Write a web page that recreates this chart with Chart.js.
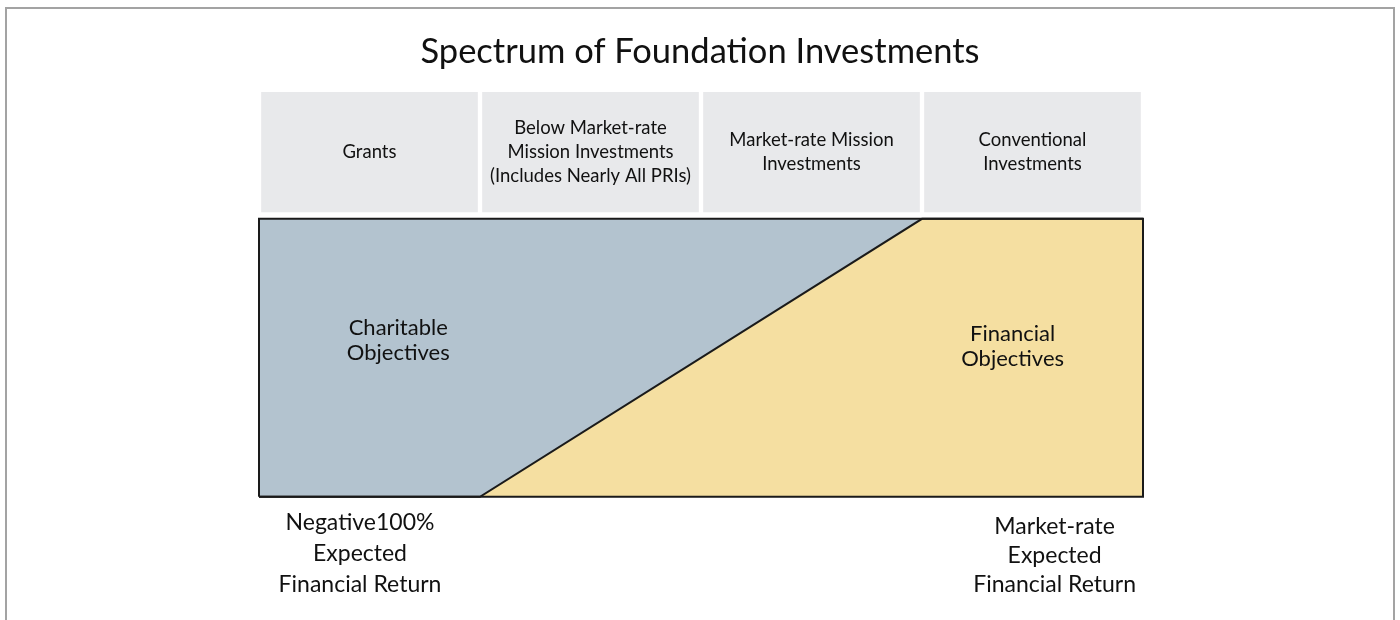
<!DOCTYPE html>
<html>
<head>
<meta charset="utf-8">
<script src="https://cdn.jsdelivr.net/npm/chart.js@4.4.1/dist/chart.umd.min.js"></script>
<style>
  html, body { margin: 0; padding: 0; background: #ffffff; }
  #wrap { position: relative; width: 1400px; height: 620px; overflow: hidden; }
  #frame { position: absolute; left: 5px; top: 7px; width: 1390px; height: 640px;
           border: 2px solid #a3a3a3; box-sizing: border-box; }
  canvas { position: absolute; left: 0; top: 0; }
</style>
</head>
<body>
<div id="wrap">
  <div id="frame"></div>
  <canvas id="c" width="1400" height="620"></canvas>
</div>
<script>
// ---- data ----
const chartTitle = "Spectrum of Foundation Investments";
const categories = [
  ["Grants"],
  ["Below Market-rate", "Mission Investments", "(Includes Nearly All PRIs)"],
  ["Market-rate Mission", "Investments"],
  ["Conventional", "Investments"]
];
const categoryCenters = [0.5, 1.5, 2.5, 3.5];
const headerBand = [1.025, 1.455];
// boundary between charitable (above) and financial (below) objectives
const boundaryX = [0, 1, 3, 4];
const boundaryY = [0, 0, 1, 1];
const topY = [1, 1, 1, 1];
const regionNames = [["Charitable", "Objectives"], ["Financial", "Objectives"]];
const returnLabels = [["Negative100%", "Expected", "Financial Return"], ["Market-rate", "Expected", "Financial Return"]];

const FONT = "Lato, 'Open Sans', sans-serif";

const textPlugin = {
  id: 'texts',
  afterDatasetsDraw(chart) {
    const ctx = chart.ctx, xs = chart.scales.x, ys = chart.scales.y;
    ctx.save();
    ctx.fillStyle = '#111';
    ctx.textAlign = 'center';
    ctx.textBaseline = 'middle';
    // title
    ctx.font = "34.5px " + FONT;
    ctx.fillText(chartTitle, 700, 52);
    // header labels
    ctx.font = "18.5px " + FONT;
    const midY = ys.getPixelForValue((headerBand[0] + headerBand[1]) / 2);
    categories.forEach((lines, i) => {
      const cx = xs.getPixelForValue(categoryCenters[i]);
      const lh = 24;
      lines.forEach((t, j) => ctx.fillText(t, cx, midY + (j - (lines.length - 1) / 2) * lh));
    });
    // region labels
    ctx.font = "22px " + FONT;
    const regionAnchors = [[0.63, 0.561], [3.41, 0.54]];
    regionNames.forEach((lines, i) => {
      const cx = xs.getPixelForValue(regionAnchors[i][0]);
      const cy = ys.getPixelForValue(regionAnchors[i][1]);
      lines.forEach((t, j) => ctx.fillText(t, cx, cy + (j - 0.5) * 25));
    });
    // bottom labels
    ctx.font = "23px " + FONT;
    const bottomAnchors = [[0.457, 523, 31], [3.60, 527, 29]];
    returnLabels.forEach((lines, i) => {
      const cx = xs.getPixelForValue(bottomAnchors[i][0]);
      lines.forEach((t, j) => ctx.fillText(t, cx, bottomAnchors[i][1] + j * bottomAnchors[i][2]));
    });
    ctx.restore();
  }
};

const pts = (xa, ya) => xa.map((x, i) => ({ x: x, y: ya[i] }));
const xMin = boundaryX[0], xMax = boundaryX[boundaryX.length - 1];

new Chart(document.getElementById('c'), {
  type: 'bar',
  data: {
    datasets: [
      {
        type: 'bar',
        data: categoryCenters.map(c => ({ x: c, y: headerBand })),
        backgroundColor: '#e8e9eb',
        borderWidth: 0,
        barThickness: 216,
        order: 5
      },
      {
        type: 'line',
        data: pts(boundaryX, topY),
        borderWidth: 0,
        borderColor: 'rgba(0,0,0,0)',
        backgroundColor: '#b3c3cf',
        fill: '+1',
        pointRadius: 0,
        order: 4
      },
      {
        type: 'line',
        data: pts(boundaryX, boundaryY),
        borderWidth: 2,
        borderColor: '#1a1a1a',
        backgroundColor: '#f5dfa1',
        fill: 'origin',
        pointRadius: 0,
        clip: 6,
        order: 3
      },
      {
        type: 'line',
        data: [
          { x: xMin, y: 0 }, { x: xMax, y: 0 }, { x: xMax, y: 1 }, { x: xMin, y: 1 }, { x: xMin, y: 0 }
        ],
        borderWidth: 2,
        borderColor: '#1a1a1a',
        fill: false,
        pointRadius: 0,
        clip: 6,
        order: 1
      }
    ]
  },
  options: {
    responsive: false,
    animation: false,
    devicePixelRatio: 1,
    layout: { padding: { left: 259, right: 257, top: 52, bottom: 12 } },
    plugins: { legend: { display: false }, tooltip: { enabled: false }, title: { display: false } },
    scales: {
      x: { type: 'linear', min: 0, max: 4, offset: false, display: false },
      y: { type: 'linear', min: -0.4, max: 1.6, display: false }
    }
  },
  plugins: [textPlugin]
});
</script>
</body>
</html>
